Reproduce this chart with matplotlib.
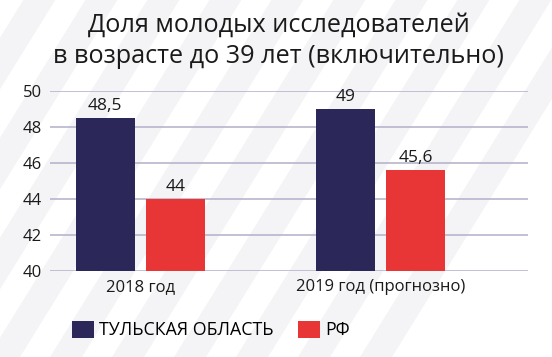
import numpy as np
import matplotlib.pyplot as plt
from matplotlib.patches import Polygon, Patch

plt.rcParams['font.family'] = ['Open Sans', 'DejaVu Sans']

# данные
categories = ['2018 год', '2019 год (прогнозно)']
tula = [48.5, 49]
rf = [44, 45.6]
tula_labels = ['48,5', '49']
rf_labels = ['44', '45,6']
series_names = ['ТУЛЬСКАЯ ОБЛАСТЬ', 'РФ']
title = 'Доля молодых исследователей\nв возрасте до 39 лет (включительно)'

navy = '#2b2758'
red = '#e83535'
grid_col = '#b7b5cc'

W, H = 552, 357
fig = plt.figure(figsize=(W / 100, H / 100), dpi=100)
fig.patch.set_facecolor('white')

# фон: диагональные серые полосы
bg = fig.add_axes([0, 0, 1, 1], zorder=-10)
bg.set_xlim(0, W)
bg.set_ylim(0, H)
bg.axis('off')
slope = 0.62  # сдвиг по x на единицу высоты
for x0 in range(-260, 400, 62):
    pts = [(x0, 0), (x0 + 32, 0), (x0 + 32 + slope * H, H), (x0 + slope * H, H)]
    bg.add_patch(Polygon(pts, closed=True, color='#f4f4f6', lw=0))

ax = fig.add_axes([50 / W, 1 - 271 / H, 478 / W, 180 / H])
ax.set_facecolor('none')

x = np.arange(len(categories))
w = 0.245
off = 0.146
b1 = ax.bar(x - off, tula, w, color=navy, zorder=3)
b2 = ax.bar(x + off, rf, w, color=red, zorder=3)

for bars, labs in ((b1, tula_labels), (b2, rf_labels)):
    for r, t in zip(bars, labs):
        ax.annotate(t, (r.get_x() + r.get_width() / 2, r.get_height()),
                    xytext=(0, 3), textcoords='offset points',
                    ha='center', va='bottom', fontsize=12.5, color='#1a1a1a')

ax.set_ylim(40, 50)
ax.set_yticks(np.arange(40, 51, 2))
ax.set_xlim(-0.376, 1.615)
ax.set_xticks(x)
ax.set_xticklabels(categories)
ax.yaxis.grid(True, color=grid_col, lw=1.2, zorder=0)
ax.set_axisbelow(True)
for s in ax.spines.values():
    s.set_visible(False)
ax.tick_params(axis='both', length=0, labelsize=12, colors='#1a1a1a')
ax.tick_params(axis='y', pad=6)
ax.tick_params(axis='x', pad=6)

fig.text(0.505, 1 - 41 / H, title, ha='center', va='center',
         fontsize=18.2, color='#1a1a1a', linespacing=1.3)

handles = [Patch(facecolor=navy), Patch(facecolor=red)]
fig.legend(handles, series_names, loc='center', bbox_to_anchor=(211 / W, 1 - 330 / H),
           ncol=2, frameon=False, fontsize=12.8, handlelength=1.2, handleheight=1.15,
           handletextpad=0.3, columnspacing=1.4, borderpad=0)

fig.savefig('out.png', dpi=100)
